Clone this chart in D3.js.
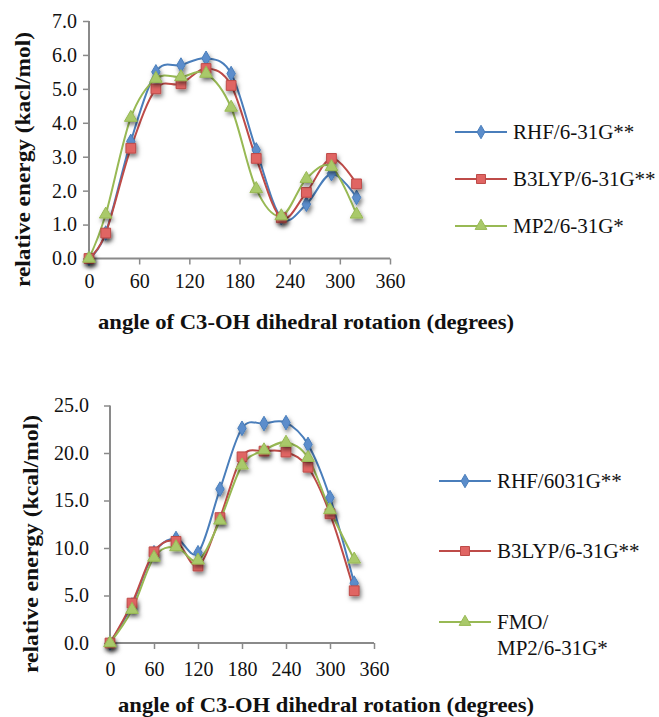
<!DOCTYPE html>
<html>
<head>
<meta charset="utf-8">
<script src="https://cdn.jsdelivr.net/npm/d3@7"></script>
<style>
  html, body { margin: 0; padding: 0; background: #fff; }
  svg { display: block; }
  text { font-family: "Liberation Serif", "DejaVu Serif", serif; fill: #111; }
</style>
</head>
<body>
<svg id="chart" width="659" height="717"></svg>
<script>
// ---------- Data: top chart ----------
const topAngles = [0, 20, 50, 80, 110, 140, 170, 200, 230, 260, 290, 320];
const topRHF   = [0, 0.75, 3.45, 5.5, 5.7, 5.9, 5.45, 3.2, 1.2, 1.6, 2.5, 1.8];
const topB3LYP = [0, 0.75, 3.25, 5.0, 5.15, 5.6, 5.1, 2.95, 1.2, 1.95, 2.95, 2.2];
const topMP2   = [0, 1.3, 4.15, 5.3, 5.35, 5.45, 4.45, 2.05, 1.25, 2.35, 2.7, 1.3];
const topSeriesNames = ["RHF/6-31G**", "B3LYP/6-31G**", "MP2/6-31G*"];
const topYTicks = [0, 1, 2, 3, 4, 5, 6, 7];
const xTicks = [0, 60, 120, 180, 240, 300, 360];

// ---------- Data: bottom chart ----------
const botAngles = [0, 30, 60, 90, 120, 150, 180, 210, 240, 270, 300, 333];
const botRHF   = [0, 4.0, 9.5, 11.0, 9.5, 16.2, 22.6, 23.1, 23.2, 20.9, 15.3, 6.3];
const botB3LYP = [0, 4.2, 9.6, 10.7, 8.1, 13.2, 19.6, 20.2, 20.1, 18.5, 13.6, 5.5];
const botFMO   = [0, 3.5, 9.0, 10.1, 8.7, 12.9, 18.7, 20.3, 21.1, 19.5, 14.0, 8.8];
const botSeriesNames = [["RHF/6031G**"], ["B3LYP/6-31G**"], ["FMO/", "MP2/6-31G*"]];
const botYTicks = [0, 5, 10, 15, 20, 25];

const xTitle = "angle of C3-OH dihedral rotation (degrees)";
const topYTitle = "relative energy (kacl/mol)";
const botYTitle = "relative energy (kcal/mol)";

const lineColors = ["#4A7EBB", "#BE4B48", "#98B954"];
const fillColors = ["#5B8DCB", "#E06563", "#A9C96A"];
const markerTypes = [d3.symbolDiamond, d3.symbolSquare, d3.symbolTriangle];
const markerSizes = [62, 95, 70];

const svg = d3.select("#chart");
const defs = svg.append("defs");
const f = defs.append("filter").attr("id", "shadow")
  .attr("x", "-60%").attr("y", "-60%").attr("width", "220%").attr("height", "220%");
f.append("feDropShadow").attr("dx", 1.5).attr("dy", 3).attr("stdDeviation", 2.2)
  .attr("flood-color", "#000").attr("flood-opacity", 0.5);

function drawChart(cfg) {
  const g = svg.append("g");
  const x = d3.scaleLinear().domain([0, 360]).range(cfg.xRange);
  const y = d3.scaleLinear().domain(cfg.yDomain).range(cfg.yRange);

  const xAxis = g.append("g").attr("transform", `translate(0,${cfg.yRange[0]})`)
    .call(d3.axisBottom(x).tickValues(xTicks).tickSize(6).tickPadding(cfg.xPad).tickFormat(d3.format("d")));
  const yAxis = g.append("g").attr("transform", `translate(${cfg.xRange[0]},0)`)
    .call(d3.axisLeft(y).tickValues(cfg.yTicks).tickSize(6).tickPadding(cfg.yPad).tickFormat(d3.format(".1f")));
  [xAxis, yAxis].forEach(a => {
    a.select(".domain").attr("stroke", "#8A8A8A").attr("stroke-width", 2);
    a.selectAll(".tick line").attr("stroke", "#8A8A8A").attr("stroke-width", 1.5);
    a.selectAll(".tick text").attr("font-size", 20).attr("fill", "#111")
      .style("font-family", "'Liberation Serif', serif");
  });
  xAxis.select(".domain").attr("d", `M${cfg.xRange[0]},0H${cfg.xRange[1]}`);
  yAxis.select(".domain").attr("d", `M0,${cfg.yRange[0]}V${cfg.yRange[1]}`);

  const line = d3.line().x(d => x(d[0])).y(d => y(d[1])).curve(d3.curveCardinal.tension(0));
  cfg.series.forEach((vals, i) => {
    const pts = cfg.angles.map((a, j) => [a, vals[j]]);
    g.append("path").datum(pts).attr("d", line).attr("fill", "none")
      .attr("stroke", lineColors[i]).attr("stroke-width", 2);
  });
  cfg.series.forEach((vals, i) => {
    const pts = cfg.angles.map((a, j) => [a, vals[j]]);
    g.append("g").attr("filter", "url(#shadow)").selectAll("path").data(pts).join("path")
      .attr("transform", d => `translate(${x(d[0])},${y(d[1])})`)
      .attr("d", d3.symbol().type(markerTypes[i]).size(markerSizes[i]))
      .attr("fill", fillColors[i]).attr("stroke", lineColors[i]).attr("stroke-width", 1);
  });

  // axis titles
  g.append("text").attr("x", cfg.xTitlePos[0]).attr("y", cfg.xTitlePos[1])
    .attr("font-size", 22).attr("font-weight", "bold")
    .attr("textLength", cfg.xTitleLen).attr("lengthAdjust", "spacingAndGlyphs").text(xTitle);
  g.append("text").attr("transform", `translate(${cfg.yTitlePos[0]},${cfg.yTitlePos[1]}) rotate(-90)`)
    .attr("x", -cfg.yTitleLen / 2)
    .attr("font-size", 21).attr("font-weight", "bold")
    .attr("textLength", cfg.yTitleLen).attr("lengthAdjust", "spacingAndGlyphs").text(cfg.yTitle);

  // legend
  cfg.legendNames.forEach((lines, i) => {
    const ly = cfg.legendY[i];
    const lg = g.append("g");
    lg.append("line").attr("x1", cfg.legendX).attr("x2", cfg.legendX + 52)
      .attr("y1", ly).attr("y2", ly).attr("stroke", lineColors[i]).attr("stroke-width", 2);
    lg.append("path").attr("transform", `translate(${cfg.legendX + 26},${ly})`)
      .attr("d", d3.symbol().type(markerTypes[i]).size(markerSizes[i] * 0.85))
      .attr("fill", fillColors[i]).attr("stroke", lineColors[i]).attr("stroke-width", 1);
    lines.forEach((t, k) => {
      lg.append("text").attr("x", cfg.legendX + cfg.legendGap).attr("y", ly + 7 + k * 26)
        .attr("font-size", 21).text(t);
    });
  });
}

drawChart({
  xRange: [89, 390], yDomain: [0, 7], yRange: [258.5, 21], yTicks: topYTicks,
  xPad: 9, yPad: 6,
  angles: topAngles, series: [topRHF, topB3LYP, topMP2],
  xTitlePos: [98, 329], xTitleLen: 416, yTitle: topYTitle, yTitlePos: [30, 159.5], yTitleLen: 255,
  legendNames: topSeriesNames.map(n => [n]), legendX: 455, legendGap: 58, legendY: [132, 179, 226]
});

drawChart({
  xRange: [110, 374], yDomain: [0, 25], yRange: [643, 405.5], yTicks: botYTicks,
  xPad: 13, yPad: 15,
  angles: botAngles, series: [botRHF, botB3LYP, botFMO],
  xTitlePos: [118, 712], xTitleLen: 416, yTitle: botYTitle, yTitlePos: [38, 544], yTitleLen: 258,
  legendNames: botSeriesNames, legendX: 439, legendGap: 58, legendY: [481, 551, 622]
});
</script>
</body>
</html>
